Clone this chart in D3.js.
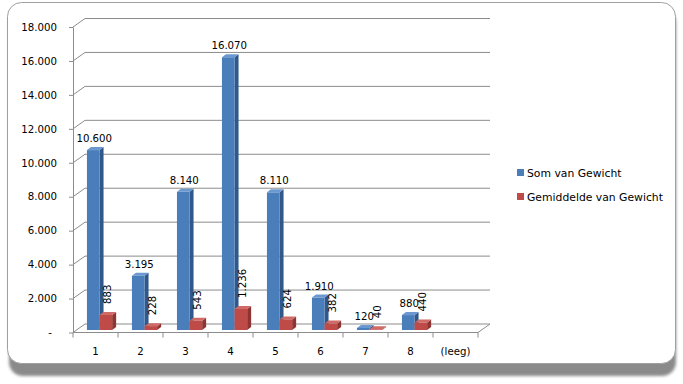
<!DOCTYPE html>
<html><head><meta charset="utf-8">
<script src="https://cdn.jsdelivr.net/npm/d3@7"></script>
<style>body{margin:0;background:#fff}svg{display:block}text{font-family:"DejaVu Sans",Verdana,sans-serif}</style>
</head><body><svg id="c" width="683" height="384"></svg>
<script>
const categories = ["1","2","3","4","5","6","7","8","(leeg)"];
const somValues = [10600, 3195, 8140, 16070, 8110, 1910, 120, 880, null];
const gemValues = [883, 228, 543, 1236, 624, 382, 40, 440, null];
const yTicks = [0, 2000, 4000, 6000, 8000, 10000, 12000, 14000, 16000, 18000];
const seriesNames = ["Som van Gewicht", "Gemiddelde van Gewicht"];

const loc = d3.formatLocale({decimal:",", thousands:".", grouping:[3], currency:["€",""]});
const fmt = loc.format(",d");

const svg = d3.select("#c");
const defs = svg.append("defs");
const f = defs.append("filter").attr("id","blur").attr("x","-5%").attr("y","-5%").attr("width","110%").attr("height","110%");
f.append("feGaussianBlur").attr("stdDeviation",1.6);

// card shadow + card
svg.append("rect").attr("x",9).attr("y",9).attr("width",667).attr("height",367).attr("rx",14)
  .attr("fill","#8a8a8a").attr("filter","url(#blur)");
svg.append("rect").attr("x",7.5).attr("y",2.5).attr("width",668).attr("height",361).attr("rx",14)
  .attr("fill","#fff").attr("stroke","#a0a0a0").attr("stroke-width",1);

const x0 = 73, x1 = 478;
const dx = 12, dy = -8.5;
const x = d3.scaleBand().domain(categories).range([x0, x1]).padding(0);
const y = d3.scaleLinear().domain([0, 18000]).range([332.5, 27]);
const bw = x.bandwidth();
const grid = "#8c8c8c";

const g = svg.append("g");
// back wall gridlines + side wall diagonals
yTicks.forEach(t => {
  g.append("line").attr("x1", x0+dx).attr("x2", x1+dx).attr("y1", y(t)+dy).attr("y2", y(t)+dy)
    .attr("stroke", grid).attr("stroke-width",1);
  g.append("line").attr("x1", x0).attr("x2", x0+dx).attr("y1", y(t)).attr("y2", y(t)+dy)
    .attr("stroke", grid).attr("stroke-width",1);
});
// floor right edge
g.append("line").attr("x1", x1).attr("y1", y(0)).attr("x2", x1+dx).attr("y2", y(0)+dy).attr("stroke", grid);

// axes
const ya = svg.append("g").attr("transform", `translate(${x0},0)`)
  .call(d3.axisLeft(y).tickValues(yTicks).tickSizeInner(4).tickSizeOuter(0).tickPadding(12)
    .tickFormat(d => d === 0 ? "-" : fmt(d)));
ya.select(".domain").attr("stroke", grid);
ya.selectAll(".tick line").attr("stroke", grid);
ya.selectAll("text").attr("font-size", 10.2).attr("fill","#000").attr("font-family","DejaVu Sans")
  .attr("dx", d => d === 0 ? -5 : 0);

const xa = svg.append("g").attr("transform", `translate(0,${y(0)})`)
  .call(d3.axisBottom(x).tickSize(0).tickPadding(15));
xa.select(".domain").remove();
xa.selectAll("text").attr("font-size", 10.2).attr("fill","#000").attr("font-family","DejaVu Sans");
svg.append("line").attr("x1", x0).attr("x2", x1).attr("y1", y(0)).attr("y2", y(0)).attr("stroke", grid);
svg.selectAll(".bnd").data(categories.concat(["end"])).enter().append("line")
  .attr("x1", (d,i) => i < categories.length ? x(d) : x1)
  .attr("x2", (d,i) => i < categories.length ? x(d) : x1)
  .attr("y1", y(0)).attr("y2", y(0)+5).attr("stroke", grid);

// 3D bars
const bdx = 4, bdy = -3, shift = -2.5;
const series = [
  {vals: somValues, off: 0.31, front:"#4a7ebb", side:"#30588a", top:"#6b98d0"},
  {vals: gemValues, off: 0.59, front:"#be4b48", side:"#8e3533", top:"#d06a67"}
];
const bwid = bw*0.28;
series.forEach(s => {
  const bars = svg.append("g");
  categories.forEach((c,i) => {
    const v = s.vals[i];
    if (v == null) return;
    const xl = x(c) + bw*s.off, xr = xl + bwid;
    const yt = y(v) + shift, yb = y(0) + shift;
    bars.append("polygon").attr("points", [[xr,yb],[xr+bdx,yb+bdy],[xr+bdx,yt+bdy],[xr,yt]].join(" ")).attr("fill", s.side);
    bars.append("polygon").attr("points", [[xl,yt],[xr,yt],[xr+bdx,yt+bdy],[xl+bdx,yt+bdy]].join(" ")).attr("fill", s.top);
    bars.append("rect").attr("x", xl).attr("y", yt).attr("width", bwid).attr("height", Math.max(0, yb-yt)).attr("fill", s.front);
  });
});

// data labels
const lab = svg.append("g").attr("font-size", 10.2).attr("fill","#000");
categories.forEach((c,i) => {
  const v = somValues[i];
  if (v != null) {
    lab.append("text").attr("x", x(c) + bw*0.31 + bwid/2 + 1).attr("y", y(v) + shift - 8)
      .attr("text-anchor","middle").text(fmt(v));
  }
  const r = gemValues[i];
  if (r != null) {
    const px = x(c) + bw*0.59 + bwid/2 + 2, py = y(r) + shift - 11;
    lab.append("text").attr("transform", `translate(${px},${py}) rotate(-90)`)
      .attr("dy","0.35em").attr("text-anchor","start").text(fmt(r));
  }
});

// legend
const lg = svg.append("g").attr("font-size", 10.8);
seriesNames.forEach((n,i) => {
  const yy = 169 + i*24;
  lg.append("rect").attr("x", 517).attr("y", yy).attr("width", 7).attr("height", 7).attr("fill", series[i].front);
  lg.append("text").attr("x", 527).attr("y", yy + 7.8).attr("fill","#000").text(n);
});
</script></body></html>
